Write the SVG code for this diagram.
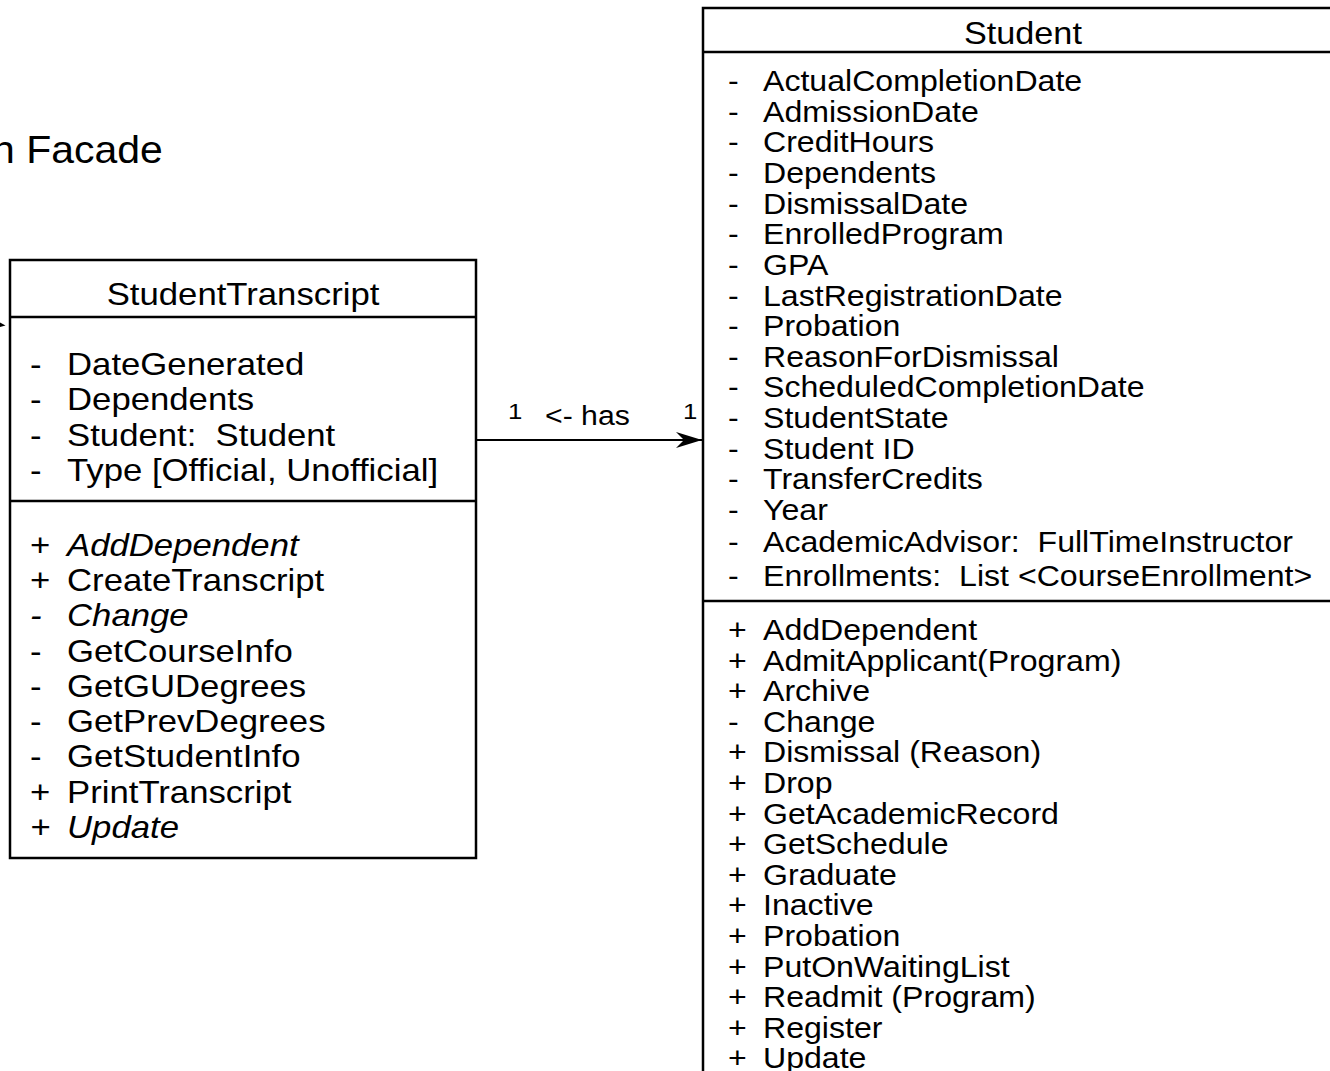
<svg xmlns="http://www.w3.org/2000/svg" width="1330" height="1071" viewBox="0 0 1330 1071">
  <style>
    text { font-family: "Liberation Sans", Arial, sans-serif; fill: #000; }
    .box { fill: #fff; stroke: #000; stroke-width: 2.5; }
    .sep { stroke: #000; stroke-width: 2.5; }
    .st { font-size: 32px; }
    .stu { font-size: 30px; }
    .it { font-style: italic; }
    .edge { stroke: #000; stroke-width: 2; fill: none; }
  </style>
  <defs>
    <marker id="arrow" markerWidth="26" markerHeight="18" refX="26" refY="8" orient="auto" markerUnits="userSpaceOnUse">
      <path d="M0,0 L26,8 L0,16 L8,8 Z" fill="#000"/>
    </marker>
  </defs>
  <rect width="1330" height="1071" fill="#fff"/>

  <!-- heading, partly off the left edge -->
  <g id="heading" transform="scale(1.05,1)">
    <text x="-7.6" y="163" font-size="39">n Facade</text>
  </g>

  <!-- stray arrow tip at the left margin -->
  <polygon points="0,322.5 5.5,325.5 0,327" fill="#000"/>

  <!-- connectors -->
  <g id="connectors">
    <line class="edge" x1="476" y1="440" x2="702" y2="440" marker-end="url(#arrow)"/>
    <g transform="scale(1.12,1)">
      <text x="453.6" y="419" font-size="23">1</text>
      <text x="486.6" y="425" font-size="27">&lt;- has</text>
      <text x="609.8" y="419" font-size="23">1</text>
    </g>
  </g>

  <!-- StudentTranscript class -->
  <g id="student-transcript">
    <rect class="box" x="10" y="260" width="466" height="598"/>
    <line class="sep" x1="10" y1="317" x2="476" y2="317"/>
    <line class="sep" x1="10" y1="501" x2="476" y2="501"/>
    <g class="st" transform="scale(1.085,1)">
      <text x="224" y="305" text-anchor="middle">StudentTranscript</text>
      <text y="375"><tspan x="27.6">-</tspan><tspan x="61.8">DateGenerated</tspan></text>
      <text y="410.5"><tspan x="27.6">-</tspan><tspan x="61.8">Dependents</tspan></text>
      <text y="446"><tspan x="27.6">-</tspan><tspan x="61.8">Student:&#160; Student</tspan></text>
      <text y="481.5"><tspan x="27.6">-</tspan><tspan x="61.8">Type [Official, Unofficial]</tspan></text>
      <text y="556"><tspan x="27.6">+</tspan><tspan x="61.8" class="it">AddDependent</tspan></text>
      <text y="591.3"><tspan x="27.6">+</tspan><tspan x="61.8">CreateTranscript</tspan></text>
      <text y="626.5"><tspan x="27.6" class="it">-</tspan><tspan x="61.8" class="it">Change</tspan></text>
      <text y="661.8"><tspan x="27.6">-</tspan><tspan x="61.8">GetCourseInfo</tspan></text>
      <text y="697"><tspan x="27.6">-</tspan><tspan x="61.8">GetGUDegrees</tspan></text>
      <text y="732.3"><tspan x="27.6">-</tspan><tspan x="61.8">GetPrevDegrees</tspan></text>
      <text y="767.5"><tspan x="27.6">-</tspan><tspan x="61.8">GetStudentInfo</tspan></text>
      <text y="802.8"><tspan x="27.6">+</tspan><tspan x="61.8">PrintTranscript</tspan></text>
      <text y="838"><tspan x="27.6" class="it">+</tspan><tspan x="61.8" class="it">Update</tspan></text>
    </g>
  </g>

  <!-- Student class, running past the right and bottom edges -->
  <g id="student">
    <rect class="box" x="703" y="8" width="645" height="1100"/>
    <line class="sep" x1="703" y1="52" x2="1340" y2="52"/>
    <line class="sep" x1="703" y1="601" x2="1340" y2="601"/>
    <g transform="scale(1.07,1)">
      <text x="956" y="44" font-size="32" text-anchor="middle">Student</text>
    </g>
    <g class="stu" transform="scale(1.07,1)">
      <text y="91"><tspan x="680.4">-</tspan><tspan x="713.1">ActualCompletionDate</tspan></text>
      <text y="121.6"><tspan x="680.4">-</tspan><tspan x="713.1">AdmissionDate</tspan></text>
      <text y="152.3"><tspan x="680.4">-</tspan><tspan x="713.1">CreditHours</tspan></text>
      <text y="183"><tspan x="680.4">-</tspan><tspan x="713.1">Dependents</tspan></text>
      <text y="213.6"><tspan x="680.4">-</tspan><tspan x="713.1">DismissalDate</tspan></text>
      <text y="244.3"><tspan x="680.4">-</tspan><tspan x="713.1">EnrolledProgram</tspan></text>
      <text y="274.9"><tspan x="680.4">-</tspan><tspan x="713.1">GPA</tspan></text>
      <text y="305.6"><tspan x="680.4">-</tspan><tspan x="713.1">LastRegistrationDate</tspan></text>
      <text y="336.2"><tspan x="680.4">-</tspan><tspan x="713.1">Probation</tspan></text>
      <text y="366.9"><tspan x="680.4">-</tspan><tspan x="713.1">ReasonForDismissal</tspan></text>
      <text y="397.5"><tspan x="680.4">-</tspan><tspan x="713.1">ScheduledCompletionDate</tspan></text>
      <text y="428.2"><tspan x="680.4">-</tspan><tspan x="713.1">StudentState</tspan></text>
      <text y="458.8"><tspan x="680.4">-</tspan><tspan x="713.1">Student ID</tspan></text>
      <text y="489.5"><tspan x="680.4">-</tspan><tspan x="713.1">TransferCredits</tspan></text>
      <text y="520.1"><tspan x="680.4">-</tspan><tspan x="713.1">Year</tspan></text>
      <text y="552.5"><tspan x="680.4">-</tspan><tspan x="713.1">AcademicAdvisor:&#160; FullTimeInstructor</tspan></text>
      <text y="586"><tspan x="680.4">-</tspan><tspan x="713.1">Enrollments:&#160; List &lt;CourseEnrollment&gt;</tspan></text>

      <text y="640"><tspan x="680.4">+</tspan><tspan x="713.1">AddDependent</tspan></text>
      <text y="670.6"><tspan x="680.4">+</tspan><tspan x="713.1">AdmitApplicant(Program)</tspan></text>
      <text y="701.2"><tspan x="680.4">+</tspan><tspan x="713.1">Archive</tspan></text>
      <text y="731.8"><tspan x="680.4">-</tspan><tspan x="713.1">Change</tspan></text>
      <text y="762.4"><tspan x="680.4">+</tspan><tspan x="713.1">Dismissal (Reason)</tspan></text>
      <text y="793"><tspan x="680.4">+</tspan><tspan x="713.1">Drop</tspan></text>
      <text y="823.6"><tspan x="680.4">+</tspan><tspan x="713.1">GetAcademicRecord</tspan></text>
      <text y="854.2"><tspan x="680.4">+</tspan><tspan x="713.1">GetSchedule</tspan></text>
      <text y="884.8"><tspan x="680.4">+</tspan><tspan x="713.1">Graduate</tspan></text>
      <text y="915.4"><tspan x="680.4">+</tspan><tspan x="713.1">Inactive</tspan></text>
      <text y="946"><tspan x="680.4">+</tspan><tspan x="713.1">Probation</tspan></text>
      <text y="976.6"><tspan x="680.4">+</tspan><tspan x="713.1">PutOnWaitingList</tspan></text>
      <text y="1007.2"><tspan x="680.4">+</tspan><tspan x="713.1">Readmit (Program)</tspan></text>
      <text y="1037.8"><tspan x="680.4">+</tspan><tspan x="713.1">Register</tspan></text>
      <text y="1068.4"><tspan x="680.4">+</tspan><tspan x="713.1">Update</tspan></text>
    </g>
  </g>
</svg>
